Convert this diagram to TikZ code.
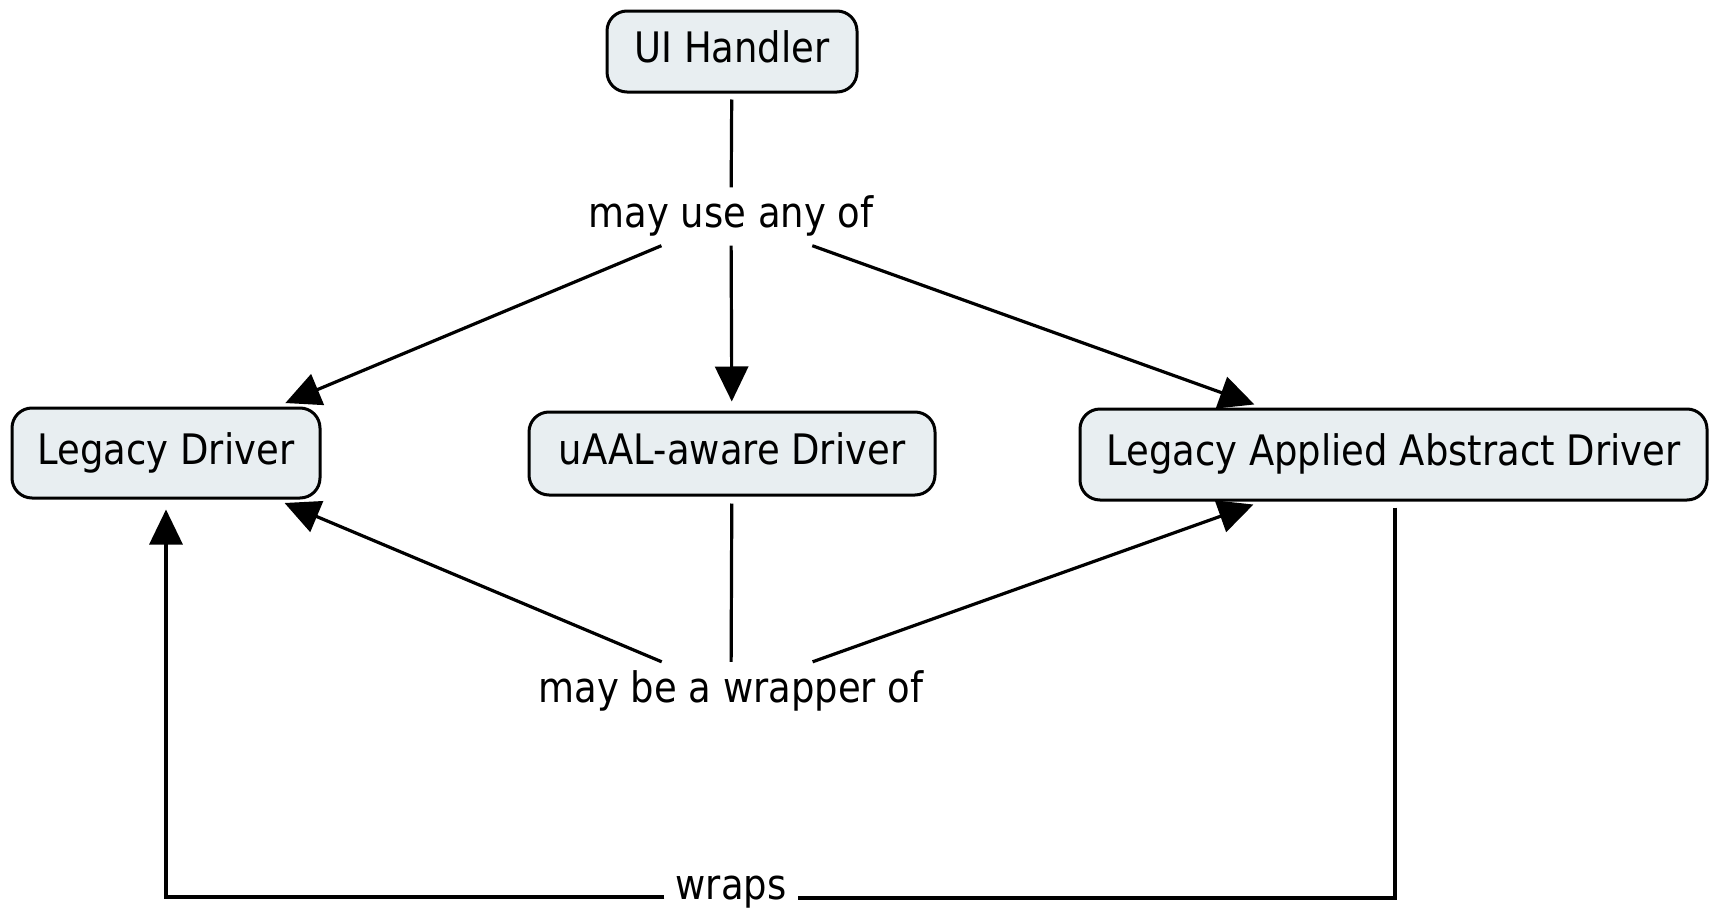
\documentclass[tikz,border=0pt]{standalone}
\usepackage{fontspec}
\setmainfont{DejaVu Sans}[FakeStretch=0.88]
\usetikzlibrary{arrows.meta}
\definecolor{boxfill}{RGB}{232,238,241}
\tikzset{
  concept/.style={draw=black, line width=3pt, fill=boxfill, rounded corners=20pt,
    inner sep=0pt, text height=32pt, text depth=10pt, align=center},
  linkword/.style={inner xsep=11pt, inner ysep=8pt, text height=32pt, text depth=10pt},
  conn/.style={line width=3.2pt, line join=miter},
  arr/.style={conn, -{Triangle[length=35pt,width=33pt]}, shorten >=9pt},
}
\begin{document}
\begin{tikzpicture}[x=1pt, y=-1pt, font=\fontsize{42}{50}\selectfont]
\useasboundingbox (0,0) rectangle (1714,910);

% concepts
\node[concept, minimum width=250pt, minimum height=81pt] (ui) at (732,51.5) {UI Handler};
\node[concept, minimum width=308pt, minimum height=90pt] (ld) at (166,453) {Legacy Driver};
\node[concept, minimum width=406pt, minimum height=83pt] (ua) at (732,453.5) {uAAL-aware Driver};
\node[concept, minimum width=627pt, minimum height=91pt] (laad) at (1393.5,454.5) {Legacy Applied Abstract Driver};

% linking phrases
\node[linkword] (use) at (731,216.5) {may use any of};
\node[linkword] (wrapof) at (731,691) {may be a wrapper of};
\node[linkword, inner ysep=1pt] (wraps) at (731,888) {wraps};

% UI Handler -> may use any of
\draw[conn, shorten <=6pt] (ui) -- (use);
\draw[arr] (use) -- (ld);
\draw[arr] (use) -- (ua);
\draw[arr] (use) -- (laad);

% uAAL-aware Driver -> may be a wrapper of
\draw[conn, shorten <=7pt] (ua) -- (wrapof);
\draw[arr] (wrapof) -- (ld);
\draw[arr] (wrapof) -- (laad);

% Legacy Applied Abstract Driver -> wraps -> Legacy Driver
\coordinate (wr) at (1395,898);
\coordinate (wl) at (166,897);
\draw[conn, shorten <=6pt] (laad.south -| wr) -- (wr) -- (wraps.east |- wr);
\draw[arr, shorten >=10pt] (wraps.west |- wl) -- (wl) -- (ld.south);
\end{tikzpicture}
\end{document}
